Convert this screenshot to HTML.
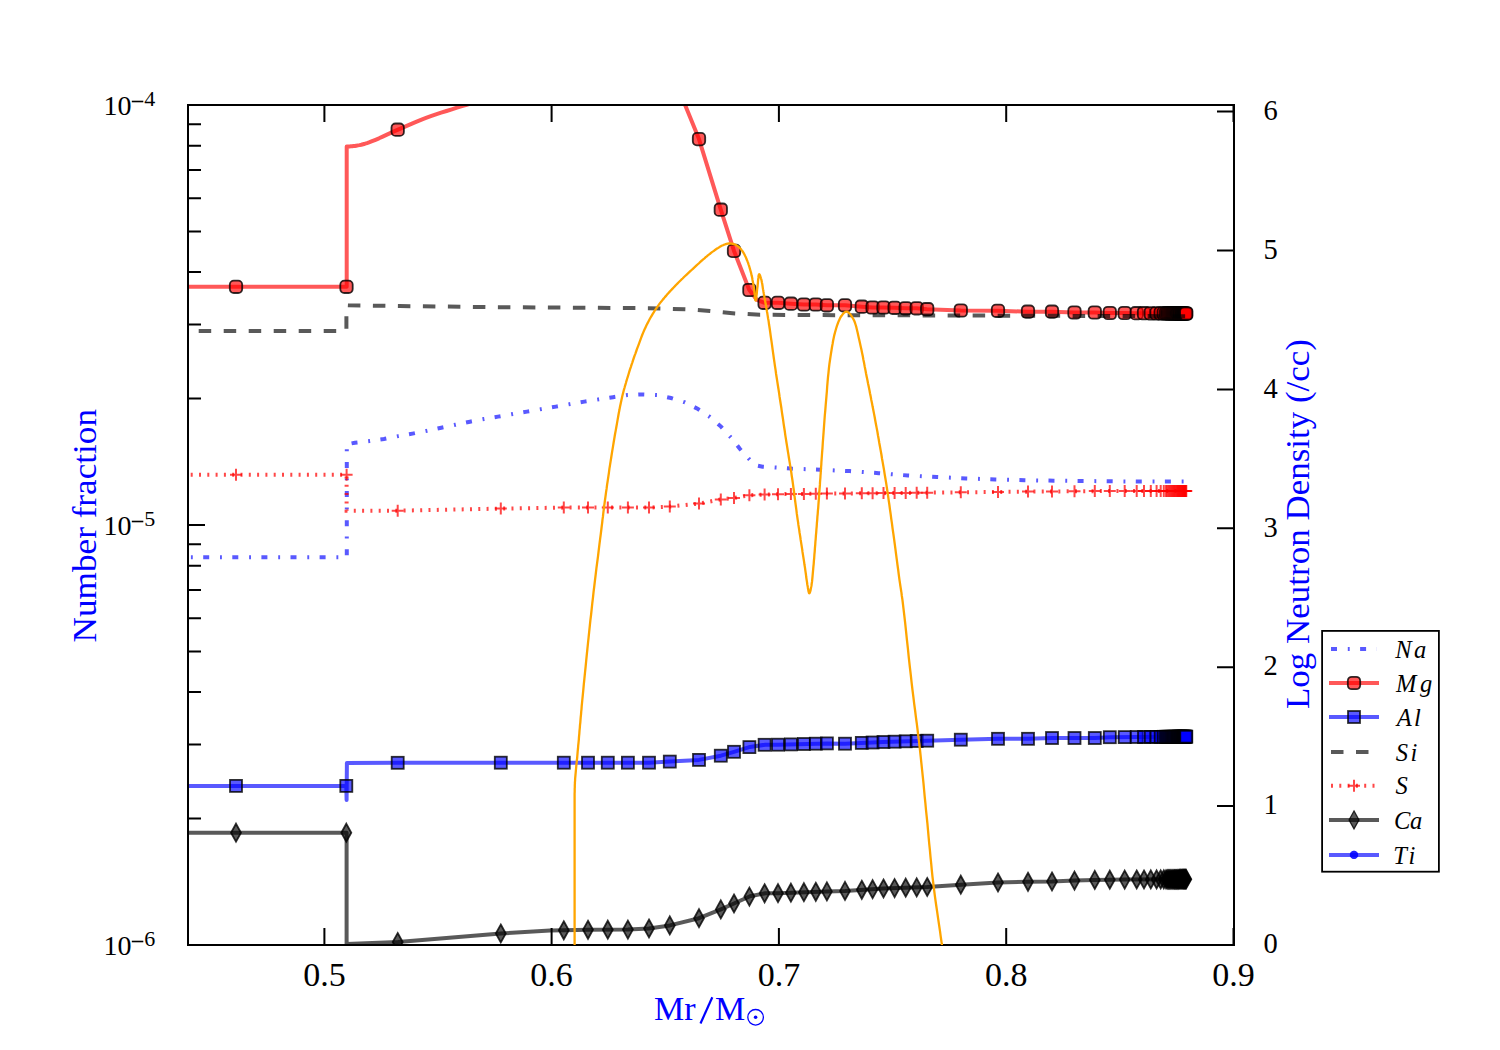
<!DOCTYPE html>
<html><head><meta charset="utf-8"><title>Neutron density plot</title><style>html,body{margin:0;padding:0;background:#fff;width:1500px;height:1050px;overflow:hidden}svg{display:block}</style></head><body>
<svg width="1500" height="1050" viewBox="0 0 1500 1050">
<defs><clipPath id="pc"><rect x="188" y="105" width="1046" height="840"/></clipPath></defs>
<rect width="1500" height="1050" fill="#fff"/>
<g clip-path="url(#pc)">
<path d="M150.0,557.2 L346.8,557.2 L346.8,449.0" fill="none" stroke="rgba(0,0,255,0.65)" stroke-width="4" stroke-dasharray="6 10.8 1.9 10.4" stroke-dashoffset="5.00"/>
<path d="M346.8,449.0 L351.0,443.5 L355.0,442.7 L369.5,441.0 L383.9,439.0 L398.3,436.1 L412.5,433.6 L427.0,430.8 L441.3,427.7 L455.3,424.8 L470.0,421.7 L484.0,419.0 L498.0,416.6 L527.0,411.6 L556.0,406.6 L584.4,401.6 L613.0,397.2 L627.6,395.0 L642.0,394.4 L657.0,395.0 L671.0,398.0 L685.0,402.4 L698.0,409.0 L710.0,417.0 L721.0,426.6 L731.0,437.6 L740.0,449.0 L750.0,460.0 L757.0,465.5 L762.6,466.7 L791.5,468.6 L820.4,469.7 L849.7,471.1 L878.8,473.2 L907.8,475.5 L936.7,477.0 L966.0,478.4 L995.2,479.4 L1024.5,480.2 L1053.6,480.7 L1082.7,481.0 L1112.0,481.3 L1141.1,481.6 L1188.0,481.6" fill="none" stroke="rgba(0,0,255,0.65)" stroke-width="4" stroke-dasharray="6 10.8 1.9 10.4" stroke-dashoffset="21.6"/>
<path d="M150.0,286.7 L346.7,286.7 L346.7,146.4 L346.9,146.4 L347.5,146.4 L348.4,146.4 L349.6,146.4 L350.8,146.3 L352.2,146.3 L353.5,146.1 L354.7,146.0 L356.3,145.7 L357.9,145.4 L359.6,145.1 L361.3,144.7 L363.1,144.2 L365.0,143.7 L367.0,143.1 L369.0,142.4 L372.1,141.2 L375.5,139.8 L379.0,138.3 L382.7,136.6 L386.4,134.9 L390.2,133.1 L393.9,131.4 L397.5,129.8 L401.0,128.3 L404.5,126.8 L407.9,125.3 L411.4,123.8 L414.9,122.3 L418.5,120.8 L422.2,119.3 L426.0,117.9 L430.8,116.2 L435.9,114.4 L441.1,112.7 L446.5,111.0 L451.8,109.3 L457.0,107.7 L462.0,106.2 L466.6,104.8 L469.8,103.8 L472.7,102.9 L475.4,102.1 L478.1,101.2 L480.8,100.4 L483.7,99.6 L486.7,98.8 L490.0,98.0 L495.3,96.7 L501.0,95.5 L507.1,94.2 L513.5,92.9 L520.1,91.6 L526.7,90.3 L533.4,89.1 L540.0,88.0 L547.3,86.8 L554.7,85.7 L562.3,84.6 L570.0,83.6 L577.6,82.6 L585.2,81.7 L592.7,80.8 L600.0,80.0 L606.6,79.3 L613.3,78.5 L620.0,77.7 L626.6,77.1 L632.9,76.5 L639.0,76.1 L644.8,75.9 L650.0,76.0 L653.3,76.1 L656.4,76.2 L659.3,76.4 L662.2,76.6 L664.9,77.0 L667.4,77.7 L669.8,78.6 L672.0,80.0 L674.4,82.4 L676.8,85.9 L679.0,90.0 L681.0,94.3 L682.6,98.3 L684.0,101.8 L684.8,104.1 L685.1,105.0 L698.9,138.8 L720.7,209.4 L734.0,250.9 L749.2,289.7 L757.0,300.0 L764.5,302.8 L778.0,302.8 L790.8,303.7 L803.8,304.5 L815.8,304.5 L827.0,305.3 L845.0,305.3 L861.7,306.7 L872.5,307.5 L883.3,307.5 L894.7,307.8 L905.8,308.3 L916.7,308.3 L927.0,309.2 L960.8,310.5 L998.0,310.8 L1028.0,311.7 L1051.7,311.7 L1074.2,312.5 L1094.7,312.5 L1109.7,313.0 L1124.5,313.0 L1136.5,313.2 L1187.0,313.5" fill="none" stroke="rgba(255,0,0,0.655)" stroke-width="4" stroke-linejoin="round"/>
<g fill="rgba(255,0,0,0.655)" stroke="rgba(0,0,0,0.8)" stroke-width="1.8"><rect x="229.8" y="280.6" width="12.4" height="12.4" rx="4" ry="4"/><rect x="340.3" y="280.6" width="12.4" height="12.4" rx="4" ry="4"/><rect x="391.5" y="123.5" width="12.4" height="12.4" rx="4" ry="4"/><rect x="494.6" y="89.6" width="12.4" height="12.4" rx="4" ry="4"/><rect x="557.6" y="78.6" width="12.4" height="12.4" rx="4" ry="4"/><rect x="581.8" y="75.4" width="12.4" height="12.4" rx="4" ry="4"/><rect x="601.6" y="73.2" width="12.4" height="12.4" rx="4" ry="4"/><rect x="621.7" y="71.6" width="12.4" height="12.4" rx="4" ry="4"/><rect x="642.8" y="69.9" width="12.4" height="12.4" rx="4" ry="4"/><rect x="663.6" y="73.4" width="12.4" height="12.4" rx="4" ry="4"/><rect x="692.8" y="132.9" width="12.4" height="12.4" rx="4" ry="4"/><rect x="714.6" y="203.5" width="12.4" height="12.4" rx="4" ry="4"/><rect x="727.8" y="244.7" width="12.4" height="12.4" rx="4" ry="4"/><rect x="743.2" y="283.8" width="12.4" height="12.4" rx="4" ry="4"/><rect x="758.4" y="296.6" width="12.4" height="12.4" rx="4" ry="4"/><rect x="771.8" y="296.6" width="12.4" height="12.4" rx="4" ry="4"/><rect x="784.7" y="297.5" width="12.4" height="12.4" rx="4" ry="4"/><rect x="797.7" y="298.3" width="12.4" height="12.4" rx="4" ry="4"/><rect x="809.6" y="298.3" width="12.4" height="12.4" rx="4" ry="4"/><rect x="820.7" y="299.1" width="12.4" height="12.4" rx="4" ry="4"/><rect x="838.8" y="299.1" width="12.4" height="12.4" rx="4" ry="4"/><rect x="855.6" y="300.5" width="12.4" height="12.4" rx="4" ry="4"/><rect x="866.4" y="301.3" width="12.4" height="12.4" rx="4" ry="4"/><rect x="877.3" y="301.3" width="12.4" height="12.4" rx="4" ry="4"/><rect x="888.4" y="301.6" width="12.4" height="12.4" rx="4" ry="4"/><rect x="899.5" y="302.1" width="12.4" height="12.4" rx="4" ry="4"/><rect x="910.5" y="302.1" width="12.4" height="12.4" rx="4" ry="4"/><rect x="921.0" y="303.0" width="12.4" height="12.4" rx="4" ry="4"/><rect x="954.6" y="304.3" width="12.4" height="12.4" rx="4" ry="4"/><rect x="991.8" y="304.6" width="12.4" height="12.4" rx="4" ry="4"/><rect x="1021.8" y="305.5" width="12.4" height="12.4" rx="4" ry="4"/><rect x="1045.8" y="305.5" width="12.4" height="12.4" rx="4" ry="4"/><rect x="1068.3" y="306.3" width="12.4" height="12.4" rx="4" ry="4"/><rect x="1088.6" y="306.3" width="12.4" height="12.4" rx="4" ry="4"/><rect x="1103.6" y="306.8" width="12.4" height="12.4" rx="4" ry="4"/><rect x="1118.5" y="306.8" width="12.4" height="12.4" rx="4" ry="4"/><rect x="1130.5" y="307.0" width="12.4" height="12.4" rx="4" ry="4"/><rect x="1137.8" y="307.0" width="12.4" height="12.4" rx="4" ry="4"/><rect x="1144.6" y="307.1" width="12.4" height="12.4" rx="4" ry="4"/><rect x="1150.4" y="307.1" width="12.4" height="12.4" rx="4" ry="4"/><rect x="1154.5" y="307.1" width="12.4" height="12.4" rx="4" ry="4"/><rect x="1157.6" y="307.2" width="12.4" height="12.4" rx="4" ry="4"/><rect x="1159.8" y="307.2" width="12.4" height="12.4" rx="4" ry="4"/><rect x="1161.1" y="307.2" width="12.4" height="12.4" rx="4" ry="4"/><rect x="1162.2" y="307.2" width="12.4" height="12.4" rx="4" ry="4"/><rect x="1163.4" y="307.2" width="12.4" height="12.4" rx="4" ry="4"/><rect x="1164.5" y="307.2" width="12.4" height="12.4" rx="4" ry="4"/><rect x="1165.6" y="307.2" width="12.4" height="12.4" rx="4" ry="4"/><rect x="1166.6" y="307.2" width="12.4" height="12.4" rx="4" ry="4"/><rect x="1167.5" y="307.2" width="12.4" height="12.4" rx="4" ry="4"/><rect x="1168.4" y="307.2" width="12.4" height="12.4" rx="4" ry="4"/><rect x="1169.3" y="307.2" width="12.4" height="12.4" rx="4" ry="4"/><rect x="1170.2" y="307.2" width="12.4" height="12.4" rx="4" ry="4"/><rect x="1171.0" y="307.2" width="12.4" height="12.4" rx="4" ry="4"/><rect x="1171.8" y="307.2" width="12.4" height="12.4" rx="4" ry="4"/><rect x="1172.5" y="307.3" width="12.4" height="12.4" rx="4" ry="4"/><rect x="1173.2" y="307.3" width="12.4" height="12.4" rx="4" ry="4"/><rect x="1173.9" y="307.3" width="12.4" height="12.4" rx="4" ry="4"/><rect x="1174.6" y="307.3" width="12.4" height="12.4" rx="4" ry="4"/><rect x="1175.3" y="307.3" width="12.4" height="12.4" rx="4" ry="4"/><rect x="1175.9" y="307.3" width="12.4" height="12.4" rx="4" ry="4"/><rect x="1176.5" y="307.3" width="12.4" height="12.4" rx="4" ry="4"/><rect x="1177.1" y="307.3" width="12.4" height="12.4" rx="4" ry="4"/><rect x="1177.6" y="307.3" width="12.4" height="12.4" rx="4" ry="4"/><rect x="1178.1" y="307.3" width="12.4" height="12.4" rx="4" ry="4"/><rect x="1178.6" y="307.3" width="12.4" height="12.4" rx="4" ry="4"/><rect x="1179.1" y="307.3" width="12.4" height="12.4" rx="4" ry="4"/><rect x="1179.6" y="307.3" width="12.4" height="12.4" rx="4" ry="4"/><rect x="1180.1" y="307.3" width="12.4" height="12.4" rx="4" ry="4"/></g>
<path d="M150.0,785.9 L346.3,785.9 L346.6,800.0 L346.9,762.9 L397.9,762.8 L500.8,762.7 L649.0,762.7 L669.9,761.6 L699.0,759.9 L720.9,755.7 L734.0,751.8 L750.0,746.9 L765.3,744.7 L778.0,744.7 L827.0,743.4 L845.0,743.7 L883.0,742.0 L927.0,740.7 L961.0,739.7 L998.0,738.8 L1028.0,738.8 L1052.0,738.0 L1094.7,738.0 L1109.7,737.2 L1136.7,737.0 L1187.0,736.7" fill="none" stroke="rgba(0,0,255,0.65)" stroke-width="4" stroke-linejoin="round" stroke-linecap="round"/>
<g fill="rgba(0,0,255,0.65)" stroke="rgba(0,0,0,0.8)" stroke-width="1.8"><rect x="230.0" y="779.9" width="12" height="12"/><rect x="340.3" y="779.9" width="12" height="12"/><rect x="391.7" y="756.8" width="12" height="12"/><rect x="494.8" y="756.7" width="12" height="12"/><rect x="557.8" y="756.7" width="12" height="12"/><rect x="582.0" y="756.7" width="12" height="12"/><rect x="601.8" y="756.7" width="12" height="12"/><rect x="621.9" y="756.7" width="12" height="12"/><rect x="643.0" y="756.7" width="12" height="12"/><rect x="663.8" y="755.6" width="12" height="12"/><rect x="693.0" y="753.9" width="12" height="12"/><rect x="714.8" y="749.7" width="12" height="12"/><rect x="728.0" y="745.8" width="12" height="12"/><rect x="743.4" y="741.1" width="12" height="12"/><rect x="758.6" y="738.8" width="12" height="12"/><rect x="772.0" y="738.7" width="12" height="12"/><rect x="784.9" y="738.4" width="12" height="12"/><rect x="797.9" y="738.0" width="12" height="12"/><rect x="809.8" y="737.7" width="12" height="12"/><rect x="820.9" y="737.4" width="12" height="12"/><rect x="839.0" y="737.7" width="12" height="12"/><rect x="855.8" y="736.9" width="12" height="12"/><rect x="866.6" y="736.5" width="12" height="12"/><rect x="877.5" y="736.0" width="12" height="12"/><rect x="888.6" y="735.7" width="12" height="12"/><rect x="899.7" y="735.3" width="12" height="12"/><rect x="910.7" y="735.0" width="12" height="12"/><rect x="921.2" y="734.7" width="12" height="12"/><rect x="954.8" y="733.7" width="12" height="12"/><rect x="992.0" y="732.8" width="12" height="12"/><rect x="1022.0" y="732.8" width="12" height="12"/><rect x="1046.0" y="732.0" width="12" height="12"/><rect x="1068.5" y="732.0" width="12" height="12"/><rect x="1088.8" y="732.0" width="12" height="12"/><rect x="1103.8" y="731.2" width="12" height="12"/><rect x="1118.7" y="731.1" width="12" height="12"/><rect x="1130.7" y="731.0" width="12" height="12"/><rect x="1138.0" y="731.0" width="12" height="12"/><rect x="1144.8" y="730.9" width="12" height="12"/><rect x="1150.6" y="730.9" width="12" height="12"/><rect x="1154.7" y="730.9" width="12" height="12"/><rect x="1157.8" y="730.8" width="12" height="12"/><rect x="1160.0" y="730.8" width="12" height="12"/><rect x="1161.3" y="730.8" width="12" height="12"/><rect x="1162.5" y="730.8" width="12" height="12"/><rect x="1163.6" y="730.8" width="12" height="12"/><rect x="1164.7" y="730.8" width="12" height="12"/><rect x="1165.8" y="730.8" width="12" height="12"/><rect x="1166.8" y="730.8" width="12" height="12"/><rect x="1167.8" y="730.8" width="12" height="12"/><rect x="1168.6" y="730.8" width="12" height="12"/><rect x="1169.5" y="730.8" width="12" height="12"/><rect x="1170.4" y="730.8" width="12" height="12"/><rect x="1171.2" y="730.8" width="12" height="12"/><rect x="1172.0" y="730.8" width="12" height="12"/><rect x="1172.8" y="730.7" width="12" height="12"/><rect x="1173.4" y="730.7" width="12" height="12"/><rect x="1174.1" y="730.7" width="12" height="12"/><rect x="1174.8" y="730.7" width="12" height="12"/><rect x="1175.5" y="730.7" width="12" height="12"/><rect x="1176.1" y="730.7" width="12" height="12"/><rect x="1176.7" y="730.7" width="12" height="12"/><rect x="1177.3" y="730.7" width="12" height="12"/><rect x="1177.8" y="730.7" width="12" height="12"/><rect x="1178.3" y="730.7" width="12" height="12"/><rect x="1178.8" y="730.7" width="12" height="12"/><rect x="1179.3" y="730.7" width="12" height="12"/><rect x="1179.8" y="730.7" width="12" height="12"/><rect x="1180.3" y="730.7" width="12" height="12"/></g>
<path d="M188.0,331.0 L346.4,331.0 L346.4,305.2 L348.0,305.3 L400.0,306.0 L488.0,307.1 L560.0,307.6 L648.8,308.2 L690.0,309.5 L710.0,311.0 L735.0,313.4 L760.0,314.8 L785.0,314.9 L850.0,315.2 L990.0,315.6 L1100.0,316.0 L1188.0,316.2" fill="none" stroke="rgba(0,0,0,0.65)" stroke-width="4" stroke-dasharray="12.5 12.5" stroke-dashoffset="14.30"/>
<path d="M150.0,474.7 L346.6,474.7 L346.6,510.8 L397.8,510.7 L500.6,508.6 L563.6,507.6 L649.0,507.6 L669.6,506.6 L699.0,503.6 L720.0,499.6 L734.0,498.0 L749.6,495.2 L765.0,494.6 L778.0,494.2 L827.0,493.6 L900.0,493.0 L960.0,492.3 L1030.0,491.6 L1100.0,491.1 L1188.0,490.9" fill="none" stroke="rgba(255,0,0,0.72)" stroke-width="4" stroke-dasharray="2 6.3" stroke-dashoffset="0.80"/>
<g fill="none" stroke="rgba(255,0,0,0.72)" stroke-width="2"><path d="M230.0,474.7H242.0M236.0,468.7V480.7"/><path d="M340.6,474.7H352.6M346.6,468.7V480.7"/><path d="M391.7,510.7H403.7M397.7,504.7V516.7"/><path d="M494.8,508.6H506.8M500.8,502.6V514.6"/><path d="M557.8,507.6H569.8M563.8,501.6V513.6"/><path d="M582.0,507.6H594.0M588.0,501.6V513.6"/><path d="M601.8,507.6H613.8M607.8,501.6V513.6"/><path d="M621.9,507.6H633.9M627.9,501.6V513.6"/><path d="M643.0,507.6H655.0M649.0,501.6V513.6"/><path d="M663.8,506.6H675.8M669.8,500.6V512.6"/><path d="M693.0,503.6H705.0M699.0,497.6V509.6"/><path d="M714.8,499.5H726.8M720.8,493.5V505.5"/><path d="M728.0,498.0H740.0M734.0,492.0V504.0"/><path d="M743.4,495.2H755.4M749.4,489.2V501.2"/><path d="M758.6,494.6H770.6M764.6,488.6V500.6"/><path d="M772.0,494.2H784.0M778.0,488.2V500.2"/><path d="M784.9,494.0H796.9M790.9,488.0V500.0"/><path d="M797.9,493.9H809.9M803.9,487.9V499.9"/><path d="M809.8,493.7H821.8M815.8,487.7V499.7"/><path d="M820.9,493.6H832.9M826.9,487.6V499.6"/><path d="M839.0,493.5H851.0M845.0,487.5V499.5"/><path d="M855.8,493.3H867.8M861.8,487.3V499.3"/><path d="M866.6,493.2H878.6M872.6,487.2V499.2"/><path d="M877.5,493.1H889.5M883.5,487.1V499.1"/><path d="M888.6,493.0H900.6M894.6,487.0V499.0"/><path d="M899.7,492.9H911.7M905.7,486.9V498.9"/><path d="M910.7,492.8H922.7M916.7,486.8V498.8"/><path d="M921.2,492.7H933.2M927.2,486.7V498.7"/><path d="M954.8,492.3H966.8M960.8,486.3V498.3"/><path d="M992.0,491.9H1004.0M998.0,485.9V497.9"/><path d="M1022.0,491.6H1034.0M1028.0,485.6V497.6"/><path d="M1046.0,491.4H1058.0M1052.0,485.4V497.4"/><path d="M1068.5,491.3H1080.5M1074.5,485.3V497.3"/><path d="M1088.8,491.1H1100.8M1094.8,485.1V497.1"/><path d="M1103.8,491.1H1115.8M1109.8,485.1V497.1"/><path d="M1118.7,491.0H1130.7M1124.7,485.0V497.0"/><path d="M1130.7,491.0H1142.7M1136.7,485.0V497.0"/><path d="M1138.0,491.0H1150.0M1144.0,485.0V497.0"/><path d="M1144.8,491.0H1156.8M1150.8,485.0V497.0"/><path d="M1150.6,491.0H1162.6M1156.6,485.0V497.0"/><path d="M1154.7,491.0H1166.7M1160.7,485.0V497.0"/><path d="M1157.8,491.0H1169.8M1163.8,485.0V497.0"/><path d="M1160.0,490.9H1172.0M1166.0,484.9V496.9"/><path d="M1161.3,490.9H1173.3M1167.3,484.9V496.9"/><path d="M1162.5,490.9H1174.5M1168.5,484.9V496.9"/><path d="M1163.6,490.9H1175.6M1169.6,484.9V496.9"/><path d="M1164.7,490.9H1176.7M1170.7,484.9V496.9"/><path d="M1165.8,490.9H1177.8M1171.8,484.9V496.9"/><path d="M1166.8,490.9H1178.8M1172.8,484.9V496.9"/><path d="M1167.8,490.9H1179.8M1173.8,484.9V496.9"/><path d="M1168.6,490.9H1180.6M1174.6,484.9V496.9"/><path d="M1169.5,490.9H1181.5M1175.5,484.9V496.9"/><path d="M1170.4,490.9H1182.4M1176.4,484.9V496.9"/><path d="M1171.2,490.9H1183.2M1177.2,484.9V496.9"/><path d="M1172.0,490.9H1184.0M1178.0,484.9V496.9"/><path d="M1172.8,490.9H1184.8M1178.8,484.9V496.9"/><path d="M1173.4,490.9H1185.4M1179.4,484.9V496.9"/><path d="M1174.1,490.9H1186.1M1180.1,484.9V496.9"/><path d="M1174.8,490.9H1186.8M1180.8,484.9V496.9"/><path d="M1175.5,490.9H1187.5M1181.5,484.9V496.9"/><path d="M1176.1,490.9H1188.1M1182.1,484.9V496.9"/><path d="M1176.7,490.9H1188.7M1182.7,484.9V496.9"/><path d="M1177.3,490.9H1189.3M1183.3,484.9V496.9"/><path d="M1177.8,490.9H1189.8M1183.8,484.9V496.9"/><path d="M1178.3,490.9H1190.3M1184.3,484.9V496.9"/><path d="M1178.8,490.9H1190.8M1184.8,484.9V496.9"/><path d="M1179.3,490.9H1191.3M1185.3,484.9V496.9"/><path d="M1179.8,490.9H1191.8M1185.8,484.9V496.9"/><path d="M1180.3,490.9H1192.3M1186.3,484.9V496.9"/></g>
<path d="M150.0,832.7 L346.6,832.7 L346.6,944.0 L398.0,942.0 L500.8,933.5 L550.0,930.6 L563.8,930.3 L588.0,929.8 L628.0,929.6 L649.0,928.5 L669.9,925.4 L699.0,918.2 L720.9,909.4 L734.0,903.5 L750.0,896.3 L765.3,893.2 L778.0,893.2 L827.0,891.4 L845.0,890.9 L883.0,888.5 L927.0,887.0 L961.0,884.7 L998.0,882.5 L1028.0,881.8 L1052.0,881.5 L1074.5,880.6 L1094.7,879.9 L1124.7,879.6 L1187.0,879.2" fill="none" stroke="rgba(0,0,0,0.65)" stroke-width="4" stroke-linejoin="round"/>
<g fill="rgba(0,0,0,0.65)" stroke="rgba(0,0,0,0.8)" stroke-width="1.8"><path d="M236.0,823.7 L241.0,832.7 L236.0,841.7 L231.0,832.7Z"/><path d="M346.3,823.7 L351.3,832.7 L346.3,841.7 L341.3,832.7Z"/><path d="M397.7,933.0 L402.7,942.0 L397.7,951.0 L392.7,942.0Z"/><path d="M500.8,924.5 L505.8,933.5 L500.8,942.5 L495.8,933.5Z"/><path d="M563.8,921.3 L568.8,930.3 L563.8,939.3 L558.8,930.3Z"/><path d="M588.0,920.8 L593.0,929.8 L588.0,938.8 L583.0,929.8Z"/><path d="M607.8,920.7 L612.8,929.7 L607.8,938.7 L602.8,929.7Z"/><path d="M627.9,920.6 L632.9,929.6 L627.9,938.6 L622.9,929.6Z"/><path d="M649.0,919.5 L654.0,928.5 L649.0,937.5 L644.0,928.5Z"/><path d="M669.8,916.4 L674.8,925.4 L669.8,934.4 L664.8,925.4Z"/><path d="M699.0,909.2 L704.0,918.2 L699.0,927.2 L694.0,918.2Z"/><path d="M720.8,900.4 L725.8,909.4 L720.8,918.4 L715.8,909.4Z"/><path d="M734.0,894.5 L739.0,903.5 L734.0,912.5 L729.0,903.5Z"/><path d="M749.4,887.6 L754.4,896.6 L749.4,905.6 L744.4,896.6Z"/><path d="M764.6,884.3 L769.6,893.3 L764.6,902.3 L759.6,893.3Z"/><path d="M778.0,884.2 L783.0,893.2 L778.0,902.2 L773.0,893.2Z"/><path d="M790.9,883.7 L795.9,892.7 L790.9,901.7 L785.9,892.7Z"/><path d="M803.9,883.2 L808.9,892.2 L803.9,901.2 L798.9,892.2Z"/><path d="M815.8,882.8 L820.8,891.8 L815.8,900.8 L810.8,891.8Z"/><path d="M826.9,882.4 L831.9,891.4 L826.9,900.4 L821.9,891.4Z"/><path d="M845.0,881.9 L850.0,890.9 L845.0,899.9 L840.0,890.9Z"/><path d="M861.8,880.8 L866.8,889.8 L861.8,898.8 L856.8,889.8Z"/><path d="M872.6,880.2 L877.6,889.2 L872.6,898.2 L867.6,889.2Z"/><path d="M883.5,879.5 L888.5,888.5 L883.5,897.5 L878.5,888.5Z"/><path d="M894.6,879.1 L899.6,888.1 L894.6,897.1 L889.6,888.1Z"/><path d="M905.7,878.7 L910.7,887.7 L905.7,896.7 L900.7,887.7Z"/><path d="M916.7,878.4 L921.7,887.4 L916.7,896.4 L911.7,887.4Z"/><path d="M927.2,878.0 L932.2,887.0 L927.2,896.0 L922.2,887.0Z"/><path d="M960.8,875.7 L965.8,884.7 L960.8,893.7 L955.8,884.7Z"/><path d="M998.0,873.5 L1003.0,882.5 L998.0,891.5 L993.0,882.5Z"/><path d="M1028.0,872.8 L1033.0,881.8 L1028.0,890.8 L1023.0,881.8Z"/><path d="M1052.0,872.5 L1057.0,881.5 L1052.0,890.5 L1047.0,881.5Z"/><path d="M1074.5,871.6 L1079.5,880.6 L1074.5,889.6 L1069.5,880.6Z"/><path d="M1094.8,870.9 L1099.8,879.9 L1094.8,888.9 L1089.8,879.9Z"/><path d="M1109.8,870.7 L1114.8,879.7 L1109.8,888.7 L1104.8,879.7Z"/><path d="M1124.7,870.6 L1129.7,879.6 L1124.7,888.6 L1119.7,879.6Z"/><path d="M1136.7,870.5 L1141.7,879.5 L1136.7,888.5 L1131.7,879.5Z"/><path d="M1144.0,870.5 L1149.0,879.5 L1144.0,888.5 L1139.0,879.5Z"/><path d="M1150.8,870.4 L1155.8,879.4 L1150.8,888.4 L1145.8,879.4Z"/><path d="M1156.6,870.4 L1161.6,879.4 L1156.6,888.4 L1151.6,879.4Z"/><path d="M1160.7,870.4 L1165.7,879.4 L1160.7,888.4 L1155.7,879.4Z"/><path d="M1163.8,870.3 L1168.8,879.3 L1163.8,888.3 L1158.8,879.3Z"/><path d="M1166.0,870.3 L1171.0,879.3 L1166.0,888.3 L1161.0,879.3Z"/><path d="M1167.3,870.3 L1172.3,879.3 L1167.3,888.3 L1162.3,879.3Z"/><path d="M1168.5,870.3 L1173.5,879.3 L1168.5,888.3 L1163.5,879.3Z"/><path d="M1169.6,870.3 L1174.6,879.3 L1169.6,888.3 L1164.6,879.3Z"/><path d="M1170.7,870.3 L1175.7,879.3 L1170.7,888.3 L1165.7,879.3Z"/><path d="M1171.8,870.3 L1176.8,879.3 L1171.8,888.3 L1166.8,879.3Z"/><path d="M1172.8,870.3 L1177.8,879.3 L1172.8,888.3 L1167.8,879.3Z"/><path d="M1173.8,870.3 L1178.8,879.3 L1173.8,888.3 L1168.8,879.3Z"/><path d="M1174.6,870.3 L1179.6,879.3 L1174.6,888.3 L1169.6,879.3Z"/><path d="M1175.5,870.3 L1180.5,879.3 L1175.5,888.3 L1170.5,879.3Z"/><path d="M1176.4,870.3 L1181.4,879.3 L1176.4,888.3 L1171.4,879.3Z"/><path d="M1177.2,870.3 L1182.2,879.3 L1177.2,888.3 L1172.2,879.3Z"/><path d="M1178.0,870.3 L1183.0,879.3 L1178.0,888.3 L1173.0,879.3Z"/><path d="M1178.8,870.3 L1183.8,879.3 L1178.8,888.3 L1173.8,879.3Z"/><path d="M1179.4,870.2 L1184.4,879.2 L1179.4,888.2 L1174.4,879.2Z"/><path d="M1180.1,870.2 L1185.1,879.2 L1180.1,888.2 L1175.1,879.2Z"/><path d="M1180.8,870.2 L1185.8,879.2 L1180.8,888.2 L1175.8,879.2Z"/><path d="M1181.5,870.2 L1186.5,879.2 L1181.5,888.2 L1176.5,879.2Z"/><path d="M1182.1,870.2 L1187.1,879.2 L1182.1,888.2 L1177.1,879.2Z"/><path d="M1182.7,870.2 L1187.7,879.2 L1182.7,888.2 L1177.7,879.2Z"/><path d="M1183.3,870.2 L1188.3,879.2 L1183.3,888.2 L1178.3,879.2Z"/><path d="M1183.8,870.2 L1188.8,879.2 L1183.8,888.2 L1178.8,879.2Z"/><path d="M1184.3,870.2 L1189.3,879.2 L1184.3,888.2 L1179.3,879.2Z"/><path d="M1184.8,870.2 L1189.8,879.2 L1184.8,888.2 L1179.8,879.2Z"/><path d="M1185.3,870.2 L1190.3,879.2 L1185.3,888.2 L1180.3,879.2Z"/><path d="M1185.8,870.2 L1190.8,879.2 L1185.8,888.2 L1180.8,879.2Z"/><path d="M1186.3,870.2 L1191.3,879.2 L1186.3,888.2 L1181.3,879.2Z"/></g>
</g>
<path d="M324.4,945V928M324.4,105V122 M551.6,945V928M551.6,105V122 M778.9,945V928M778.9,105V122 M1006.2,945V928M1006.2,105V122 M1233.5,945V928M1233.5,105V122 M188,398.6H201 M188,818.6H201 M188,324.6H201 M188,744.6H201 M188,272.1H201 M188,692.1H201 M188,231.4H201 M188,651.4H201 M188,198.2H201 M188,618.2H201 M188,170.1H201 M188,590.1H201 M188,145.7H201 M188,565.7H201 M188,124.2H201 M188,544.2H201 M188,105H205 M188,525H205 M188,945H205 M1234,945.0H1217 M1234,806.1H1217 M1234,667.2H1217 M1234,528.3H1217 M1234,389.4H1217 M1234,250.5H1217 M1234,111.6H1217" stroke="#000" stroke-width="2" fill="none"/>
<rect x="188" y="105" width="1046" height="840" fill="none" stroke="#000" stroke-width="2"/>
<g clip-path="url(#pc)">
<path d="M574.6,946.0 L574.6,945.1 L574.6,942.7 L574.6,939.0 L574.6,934.3 L574.6,928.9 L574.6,923.0 L574.6,916.8 L574.6,910.8 L574.6,905.1 L574.6,900.0 L574.6,895.1 L574.6,890.0 L574.6,885.0 L574.6,879.9 L574.6,874.8 L574.6,869.7 L574.6,864.7 L574.6,859.7 L574.6,854.8 L574.6,850.0 L574.6,845.8 L574.6,841.5 L574.6,837.2 L574.6,833.0 L574.6,828.9 L574.6,824.8 L574.6,820.9 L574.6,817.1 L574.6,813.4 L574.6,810.0 L574.6,807.7 L574.6,805.5 L574.6,803.3 L574.6,801.3 L574.6,799.3 L574.6,797.3 L574.6,795.4 L574.6,793.6 L574.7,791.8 L574.7,790.0 L574.7,788.7 L574.8,787.4 L574.8,786.2 L574.8,785.0 L574.9,783.8 L574.9,782.6 L575.0,781.5 L575.1,780.3 L575.1,779.2 L575.2,778.0 L575.3,776.9 L575.4,775.8 L575.5,774.7 L575.6,773.6 L575.7,772.5 L575.8,771.4 L575.9,770.3 L576.0,769.2 L576.1,768.1 L576.2,767.0 L576.3,765.9 L576.4,764.9 L576.5,763.9 L576.6,762.8 L576.7,761.8 L576.8,760.8 L576.9,759.7 L577.1,758.5 L577.2,757.3 L577.3,756.0 L577.5,753.7 L577.7,751.2 L578.0,748.5 L578.2,745.7 L578.5,742.8 L578.8,739.8 L579.0,736.8 L579.3,733.8 L579.5,730.9 L579.8,728.0 L580.0,725.2 L580.3,722.6 L580.5,719.9 L580.7,717.3 L581.0,714.6 L581.2,711.9 L581.5,709.1 L581.7,706.2 L582.0,703.2 L582.3,700.0 L582.8,695.1 L583.3,689.9 L583.8,684.4 L584.4,678.6 L585.0,672.7 L585.6,666.8 L586.2,660.7 L586.8,654.7 L587.4,648.8 L588.0,643.0 L588.6,637.3 L589.2,631.6 L589.8,625.9 L590.4,620.2 L591.1,614.5 L591.7,608.8 L592.3,603.1 L593.0,597.4 L593.6,591.7 L594.3,586.0 L595.0,580.2 L595.7,574.3 L596.4,568.3 L597.2,562.3 L598.0,556.3 L598.7,550.4 L599.4,544.7 L600.1,539.2 L600.8,533.9 L601.4,529.0 L601.8,525.7 L602.2,522.6 L602.5,519.7 L602.9,516.9 L603.2,514.1 L603.5,511.4 L603.9,508.7 L604.2,505.9 L604.6,503.0 L605.0,500.0 L605.5,496.3 L606.0,492.6 L606.6,488.7 L607.1,484.7 L607.7,480.8 L608.3,476.8 L608.9,472.8 L609.4,468.9 L610.0,465.1 L610.6,461.4 L611.1,458.2 L611.6,455.0 L612.1,451.9 L612.6,448.9 L613.1,445.9 L613.6,442.8 L614.1,439.8 L614.6,436.8 L615.1,433.7 L615.7,430.6 L616.3,427.3 L616.9,423.9 L617.5,420.4 L618.1,417.0 L618.7,413.5 L619.4,410.1 L620.0,406.7 L620.7,403.4 L621.4,400.2 L622.1,397.1 L622.7,394.6 L623.3,392.2 L623.9,389.8 L624.6,387.5 L625.2,385.3 L625.9,383.0 L626.5,380.8 L627.2,378.5 L627.9,376.3 L628.6,374.0 L629.3,371.7 L630.0,369.4 L630.8,367.1 L631.5,364.8 L632.3,362.6 L633.0,360.3 L633.8,358.0 L634.6,355.7 L635.5,353.3 L636.3,351.0 L637.2,348.4 L638.2,345.8 L639.2,343.1 L640.2,340.4 L641.2,337.7 L642.2,335.0 L643.3,332.4 L644.4,329.8 L645.5,327.4 L646.6,325.0 L647.6,323.1 L648.6,321.2 L649.6,319.3 L650.6,317.5 L651.6,315.8 L652.6,314.1 L653.7,312.4 L654.7,310.7 L655.8,309.1 L656.9,307.5 L657.9,306.1 L658.9,304.7 L659.8,303.4 L660.8,302.1 L661.8,300.9 L662.8,299.6 L663.9,298.4 L664.9,297.1 L666.0,295.9 L667.1,294.6 L668.3,293.2 L669.5,291.9 L670.8,290.5 L672.1,289.1 L673.4,287.7 L674.7,286.4 L676.0,285.0 L677.4,283.6 L678.7,282.3 L680.0,281.0 L681.3,279.7 L682.6,278.5 L683.8,277.3 L685.1,276.0 L686.4,274.8 L687.7,273.6 L689.0,272.4 L690.3,271.2 L691.6,270.0 L692.9,268.8 L694.2,267.6 L695.5,266.4 L696.8,265.2 L698.1,264.0 L699.4,262.8 L700.6,261.6 L701.9,260.5 L703.2,259.3 L704.5,258.3 L705.7,257.2 L706.8,256.3 L707.8,255.4 L708.9,254.6 L710.0,253.8 L711.0,252.9 L712.0,252.1 L713.1,251.4 L714.1,250.7 L715.0,250.0 L716.0,249.3 L716.7,248.8 L717.5,248.3 L718.2,247.9 L718.9,247.4 L719.6,247.0 L720.2,246.6 L720.9,246.2 L721.6,245.8 L722.3,245.5 L723.0,245.2 L723.6,244.9 L724.3,244.7 L724.9,244.5 L725.5,244.2 L726.1,244.0 L726.8,243.9 L727.4,243.7 L728.0,243.6 L728.7,243.5 L729.3,243.5 L729.9,243.5 L730.6,243.5 L731.2,243.6 L731.9,243.6 L732.5,243.8 L733.1,243.9 L733.8,244.1 L734.4,244.3 L735.0,244.5 L735.6,244.8 L736.3,245.2 L736.9,245.6 L737.6,246.1 L738.3,246.6 L738.9,247.1 L739.5,247.7 L740.2,248.4 L740.8,249.0 L741.3,249.7 L741.9,250.4 L742.5,251.2 L743.1,252.1 L743.7,253.1 L744.2,254.0 L744.7,255.0 L745.2,256.1 L745.7,257.1 L746.2,258.2 L746.6,259.3 L747.1,260.4 L747.6,261.7 L748.1,262.9 L748.5,264.3 L749.0,265.6 L749.4,267.0 L749.8,268.4 L750.2,269.8 L750.6,271.2 L751.0,272.6 L751.3,274.0 L751.6,275.4 L752.0,276.9 L752.3,278.4 L752.5,279.9 L752.8,281.4 L753.1,282.9 L753.3,284.4 L753.5,285.8 L753.8,287.3 L754.0,288.7 L754.2,290.0 L754.4,291.5 L754.5,293.1 L754.7,294.6 L754.8,296.2 L755.0,297.5 L755.1,298.7 L755.3,299.7 L755.4,300.3 L755.6,300.5 L755.8,300.3 L756.0,299.6 L756.1,298.5 L756.3,297.2 L756.5,295.7 L756.7,294.0 L756.9,292.3 L757.0,290.6 L757.2,289.0 L757.4,287.6 L757.6,286.2 L757.7,284.5 L757.9,282.8 L758.0,281.0 L758.2,279.3 L758.4,277.7 L758.5,276.3 L758.7,275.2 L759.0,274.5 L759.2,274.2 L759.4,274.3 L759.6,274.5 L759.8,274.9 L760.0,275.3 L760.2,275.9 L760.4,276.5 L760.6,277.2 L760.8,277.9 L761.0,278.6 L761.2,279.2 L761.5,280.2 L761.7,281.3 L761.9,282.5 L762.2,283.7 L762.4,285.0 L762.6,286.4 L762.8,287.8 L763.0,289.2 L763.3,290.6 L763.5,292.0 L763.8,293.8 L764.2,295.7 L764.5,297.7 L764.9,299.7 L765.3,301.8 L765.6,303.8 L766.0,305.9 L766.3,307.9 L766.7,309.8 L767.0,311.7 L767.3,313.2 L767.5,314.6 L767.7,315.9 L767.9,317.2 L768.1,318.5 L768.4,319.9 L768.6,321.2 L768.8,322.7 L769.0,324.3 L769.3,326.0 L769.8,329.2 L770.3,332.8 L770.8,336.6 L771.4,340.7 L772.0,344.9 L772.6,349.3 L773.2,353.6 L773.8,358.0 L774.4,362.2 L775.0,366.3 L775.6,370.2 L776.1,374.0 L776.7,377.8 L777.3,381.7 L777.9,385.5 L778.5,389.3 L779.1,393.1 L779.6,396.9 L780.2,400.7 L780.8,404.5 L781.4,408.3 L781.9,412.1 L782.5,416.0 L783.1,419.8 L783.6,423.6 L784.2,427.5 L784.8,431.3 L785.3,435.1 L785.9,438.9 L786.5,442.7 L787.1,446.4 L787.7,450.2 L788.3,453.9 L788.9,457.7 L789.5,461.4 L790.1,465.1 L790.7,468.8 L791.3,472.5 L791.8,476.3 L792.4,480.0 L792.9,483.7 L793.4,487.5 L794.0,491.4 L794.4,495.2 L794.9,499.0 L795.4,502.8 L795.9,506.5 L796.4,510.2 L796.8,513.7 L797.3,517.1 L797.7,519.8 L798.1,522.4 L798.4,524.9 L798.8,527.4 L799.2,529.8 L799.5,532.2 L799.9,534.6 L800.3,537.0 L800.6,539.4 L801.0,541.9 L801.4,544.4 L801.8,546.9 L802.2,549.4 L802.5,551.9 L802.9,554.4 L803.3,556.9 L803.7,559.4 L804.1,561.9 L804.4,564.3 L804.8,566.6 L805.1,568.7 L805.4,570.8 L805.7,572.9 L806.0,575.0 L806.2,577.0 L806.5,579.0 L806.8,580.9 L807.1,582.8 L807.3,584.5 L807.6,586.0 L807.8,586.9 L807.9,587.9 L808.1,588.9 L808.3,589.9 L808.4,590.8 L808.6,591.6 L808.8,592.3 L808.9,592.8 L809.1,593.2 L809.3,593.3 L809.5,593.2 L809.7,592.9 L809.9,592.5 L810.1,591.9 L810.3,591.2 L810.5,590.4 L810.7,589.6 L810.8,588.7 L811.0,587.8 L811.2,587.0 L811.5,585.5 L811.7,583.7 L812.0,581.9 L812.2,579.9 L812.4,577.8 L812.6,575.6 L812.8,573.4 L813.0,571.1 L813.2,568.9 L813.4,566.6 L813.7,563.8 L813.9,560.8 L814.2,557.8 L814.4,554.7 L814.7,551.6 L814.9,548.4 L815.2,545.2 L815.4,542.0 L815.7,538.8 L815.9,535.7 L816.2,532.6 L816.4,529.5 L816.7,526.3 L816.9,523.2 L817.2,520.0 L817.4,516.9 L817.7,513.8 L817.9,510.8 L818.2,507.8 L818.4,504.8 L818.6,502.2 L818.8,499.7 L819.0,497.1 L819.2,494.6 L819.3,492.2 L819.5,489.7 L819.7,487.3 L819.9,484.9 L820.0,482.4 L820.2,480.0 L820.4,477.7 L820.5,475.5 L820.7,473.3 L820.8,471.2 L821.0,469.0 L821.1,466.8 L821.3,464.6 L821.4,462.2 L821.6,459.7 L821.8,457.0 L822.1,452.6 L822.5,447.9 L822.8,442.8 L823.2,437.5 L823.6,432.1 L824.0,426.5 L824.4,421.0 L824.8,415.5 L825.3,410.1 L825.7,405.0 L826.1,400.3 L826.5,395.6 L826.9,391.0 L827.2,386.3 L827.6,381.7 L828.0,377.2 L828.5,372.7 L828.9,368.4 L829.4,364.1 L830.0,360.0 L830.5,356.7 L831.0,353.4 L831.5,350.2 L832.0,347.0 L832.6,343.9 L833.1,340.8 L833.7,337.9 L834.3,335.1 L835.0,332.5 L835.7,330.0 L836.2,328.3 L836.7,326.7 L837.2,325.1 L837.8,323.5 L838.3,322.1 L838.9,320.7 L839.5,319.4 L840.1,318.1 L840.7,317.0 L841.4,316.0 L841.9,315.4 L842.4,314.7 L842.9,314.1 L843.4,313.5 L843.9,313.0 L844.4,312.5 L845.0,312.1 L845.5,311.8 L846.1,311.6 L846.6,311.6 L847.3,311.7 L847.9,312.1 L848.6,312.6 L849.3,313.3 L850.0,314.0 L850.7,314.9 L851.4,315.9 L852.1,316.9 L852.7,318.0 L853.3,319.0 L854.2,320.8 L855.0,322.8 L855.7,325.0 L856.4,327.4 L857.0,329.9 L857.6,332.5 L858.2,335.2 L858.8,337.9 L859.4,340.6 L860.0,343.3 L860.7,346.4 L861.4,349.6 L862.1,352.9 L862.8,356.3 L863.4,359.7 L864.1,363.1 L864.7,366.5 L865.4,369.9 L866.0,373.3 L866.7,376.7 L867.4,380.0 L868.0,383.3 L868.7,386.6 L869.4,389.9 L870.0,393.2 L870.7,396.6 L871.3,399.9 L872.0,403.2 L872.6,406.6 L873.3,410.0 L874.0,413.6 L874.7,417.2 L875.3,420.8 L876.0,424.5 L876.7,428.1 L877.4,431.8 L878.0,435.5 L878.7,439.2 L879.3,443.0 L880.0,446.7 L880.7,450.6 L881.4,454.5 L882.0,458.5 L882.7,462.4 L883.4,466.4 L884.1,470.4 L884.7,474.4 L885.4,478.5 L886.1,482.6 L886.7,486.7 L887.4,491.2 L888.1,495.8 L888.7,500.4 L889.4,505.0 L890.0,509.7 L890.7,514.4 L891.3,519.1 L892.0,523.8 L892.6,528.6 L893.3,533.3 L894.0,538.3 L894.7,543.6 L895.4,548.9 L896.1,554.3 L896.8,559.7 L897.5,565.0 L898.2,570.0 L898.8,574.8 L899.4,579.3 L900.0,583.3 L900.3,585.5 L900.6,587.4 L900.9,589.2 L901.1,590.8 L901.4,592.4 L901.6,594.0 L901.8,595.7 L902.1,597.6 L902.4,599.6 L902.7,602.0 L903.4,607.8 L904.2,614.7 L905.1,622.4 L906.0,630.8 L906.9,639.6 L907.9,648.6 L908.8,657.7 L909.8,666.6 L910.8,675.2 L911.7,683.3 L912.5,690.2 L913.4,697.1 L914.2,703.8 L915.1,710.5 L915.9,717.1 L916.8,723.6 L917.6,730.2 L918.4,736.8 L919.2,743.4 L920.0,750.0 L920.7,756.7 L921.4,763.3 L922.1,770.0 L922.8,776.7 L923.5,783.3 L924.1,790.0 L924.7,796.7 L925.4,803.4 L926.0,810.0 L926.7,816.7 L927.4,823.4 L928.0,830.1 L928.6,836.8 L929.2,843.5 L929.9,850.2 L930.5,856.9 L931.2,863.6 L931.8,870.2 L932.5,876.8 L933.3,883.3 L934.1,889.8 L935.0,896.8 L936.0,904.0 L937.1,911.3 L938.1,918.4 L939.1,925.1 L940.0,931.1 L940.7,936.3 L941.3,940.5 L941.7,943.3 L941.8,943.7 L941.8,944.2 L941.8,944.5 L941.9,944.9 L941.9,945.2 L941.9,945.5 L942.0,945.7 L942.0,945.9 L942.0,946.0 L942.0,946.0" fill="none" stroke="#FFA500" stroke-width="2.3" stroke-linejoin="round"/>
</g>
<text x="324.4" y="986.3" font-family="'Liberation Serif', serif" font-size="34" text-anchor="middle">0.5</text>
<text x="551.6" y="986.3" font-family="'Liberation Serif', serif" font-size="34" text-anchor="middle">0.6</text>
<text x="778.9" y="986.3" font-family="'Liberation Serif', serif" font-size="34" text-anchor="middle">0.7</text>
<text x="1006.2" y="986.3" font-family="'Liberation Serif', serif" font-size="34" text-anchor="middle">0.8</text>
<text x="1233.5" y="986.3" font-family="'Liberation Serif', serif" font-size="34" text-anchor="middle">0.9</text>
<text x="103.4" y="114.9" font-family="'Liberation Serif', serif" font-size="28">10</text>
<rect x="131.8" y="100.7" width="11.5" height="1.6" fill="#000"/>
<text x="144.3" y="105.9" font-family="'Liberation Serif', serif" font-size="22">4</text>
<text x="103.4" y="534.9" font-family="'Liberation Serif', serif" font-size="28">10</text>
<rect x="131.8" y="520.7" width="11.5" height="1.6" fill="#000"/>
<text x="144.3" y="525.9" font-family="'Liberation Serif', serif" font-size="22">5</text>
<text x="103.4" y="954.9" font-family="'Liberation Serif', serif" font-size="28">10</text>
<rect x="131.8" y="940.7" width="11.5" height="1.6" fill="#000"/>
<text x="144.3" y="945.9" font-family="'Liberation Serif', serif" font-size="22">6</text>
<text x="1263.5" y="953.2" font-family="'Liberation Serif', serif" font-size="28.5">0</text>
<text x="1263.5" y="814.3" font-family="'Liberation Serif', serif" font-size="28.5">1</text>
<text x="1263.5" y="675.4" font-family="'Liberation Serif', serif" font-size="28.5">2</text>
<text x="1263.5" y="536.5" font-family="'Liberation Serif', serif" font-size="28.5">3</text>
<text x="1263.5" y="397.6" font-family="'Liberation Serif', serif" font-size="28.5">4</text>
<text x="1263.5" y="258.7" font-family="'Liberation Serif', serif" font-size="28.5">5</text>
<text x="1263.5" y="119.8" font-family="'Liberation Serif', serif" font-size="28.5">6</text>
<text transform="translate(95.5,642.4) rotate(-90)" font-family="'Liberation Serif', serif" font-size="34" fill="#0000ff" textLength="233.4" lengthAdjust="spacingAndGlyphs">Number fraction</text>
<text transform="translate(1309.4,709) rotate(-90)" font-family="'Liberation Serif', serif" font-size="33.5" fill="#0000ff" textLength="370" lengthAdjust="spacingAndGlyphs">Log Neutron Density (/cc)</text>
<text x="654" y="1020.3" font-family="'Liberation Serif', serif" font-size="34" fill="#0000ff">Mr</text>
<path d="M700.5,1023.5 L712.3,997.2" stroke="#0000ff" stroke-width="2.2"/>
<text x="715" y="1020.3" font-family="'Liberation Serif', serif" font-size="34" fill="#0000ff">M</text>
<circle cx="755.6" cy="1017.3" r="7.8" fill="none" stroke="#0000ff" stroke-width="1.3"/><circle cx="755.6" cy="1017.3" r="1.8" fill="#0000ff"/>
<rect x="1322.1" y="630.9" width="116.8" height="240.8" fill="#fff" stroke="#000" stroke-width="1.8"/>
<path d="M1331,649H1377" stroke="rgba(0,0,255,0.65)" stroke-width="4" stroke-dasharray="6 10.8 1.9 10.4"/>
<path d="M1329,683H1379" stroke="rgba(255,0,0,0.655)" stroke-width="4"/><g fill="rgba(255,0,0,0.655)" stroke="rgba(0,0,0,0.8)" stroke-width="1.8"><rect x="1347.8" y="676.8" width="12.4" height="12.4" rx="4" ry="4"/></g>
<path d="M1329,717H1379" stroke="rgba(0,0,255,0.65)" stroke-width="4"/><g fill="rgba(0,0,255,0.65)" stroke="rgba(0,0,0,0.8)" stroke-width="1.8"><rect x="1348.0" y="711.0" width="12" height="12"/></g>
<path d="M1331,751.9H1379" stroke="rgba(0,0,0,0.65)" stroke-width="4" stroke-dasharray="12.5 12.5"/>
<path d="M1331,785.7H1379" stroke="rgba(255,0,0,0.72)" stroke-width="4" stroke-dasharray="2 6.3"/><g fill="none" stroke="rgba(255,0,0,0.72)" stroke-width="2"><path d="M1348.0,785.7H1360.0M1354.0,779.7V791.7"/></g>
<path d="M1329,819.9H1379" stroke="rgba(0,0,0,0.65)" stroke-width="4"/><g fill="rgba(0,0,0,0.65)" stroke="rgba(0,0,0,0.8)" stroke-width="1.2"><path d="M1354.0,810.9 L1359.0,819.9 L1354.0,828.9 L1349.0,819.9Z"/></g>
<path d="M1329,854.9H1379" stroke="rgba(0,0,255,0.65)" stroke-width="4"/><circle cx="1354" cy="854.9" r="4.2" fill="rgba(0,0,255,0.65)"/><circle cx="1354" cy="854.9" r="4.2" fill="rgba(0,0,255,0.65)"/>
<text x="1395.2" y="657.6" font-family="'Liberation Serif', serif" font-size="24.5" font-style="italic">N<tspan dx="2.4">a</tspan></text>
<text x="1396" y="691.6" font-family="'Liberation Serif', serif" font-size="24.5" font-style="italic">M<tspan dx="3.5">g</tspan></text>
<text x="1396.7" y="725.6" font-family="'Liberation Serif', serif" font-size="24.5" font-style="italic">A<tspan dx="2.3">l</tspan></text>
<text x="1395.7" y="760.5" font-family="'Liberation Serif', serif" font-size="24.5" font-style="italic">S<tspan dx="2.5">i</tspan></text>
<text x="1395.5" y="794.3" font-family="'Liberation Serif', serif" font-size="24.5" font-style="italic">S</text>
<text x="1394" y="828.5" font-family="'Liberation Serif', serif" font-size="24.5" font-style="italic">C<tspan dx="-0.4">a</tspan></text>
<text x="1393.3" y="863.5" font-family="'Liberation Serif', serif" font-size="24.5" font-style="italic">T<tspan dx="2.8">i</tspan></text>
</svg>
</body></html>
